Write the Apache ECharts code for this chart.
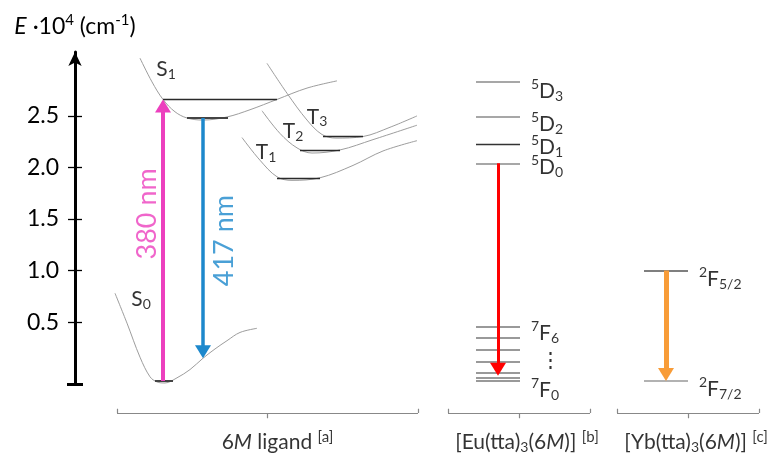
<!DOCTYPE html>
<html><head><meta charset="utf-8">
<script src="https://cdn.jsdelivr.net/npm/echarts@6/dist/echarts.min.js"></script>
<style>html,body{margin:0;padding:0;background:#fff}#c{width:772px;height:454px}</style>
</head><body><div id="c"></div>
<script>
// ---------- data (energies in 10^4 cm^-1, x = schematic configuration coordinate) ----------
const yTicks = [0.5, 1.0, 1.5, 2.0, 2.5];
const yMin = -0.1, yMax = 3.12;

const s0Curve = [[115,0.78],[127,0.49],[140,0.16],[150,-0.03],[157,-0.08],[165,-0.09],[177,-0.04],[190,0.04],[203,0.15],[215,0.24],[227,0.32],[240,0.40],[257,0.44]];
const s1Curve = [[140,3.06],[152,2.83],[163,2.66],[175,2.54],[187,2.48],[203,2.46],[227,2.49],[250,2.56],[277,2.66],[307,2.77],[337,2.84]];
const t1Curve = [[242,2.29],[260,2.07],[277,1.91],[292,1.875],[320,1.90],[353,2.02],[383,2.16],[417,2.26]];
const t2Curve = [[262,2.55],[280,2.33],[297,2.19],[312,2.14],[340,2.17],[373,2.27],[417,2.41]];
const t3Curve = [[267,3.01],[287,2.72],[307,2.46],[322,2.32],[336,2.285],[363,2.30],[390,2.39],[417,2.50]];

const ligandLevels = [
  {state:'S0',  from:155, to:173, E:-0.07},
  {state:'S1',  from:163, to:277, E:2.66},
  {state:'S1v', from:187, to:228, E:2.48},
  {state:'T1',  from:277, to:320, E:1.90},
  {state:'T2',  from:300, to:340, E:2.17},
  {state:'T3',  from:323, to:363, E:2.30}
];

const euNames = ['5D3','5D2','5D1','5D0','7F6','7F5','7F4','7F3','7F2','7F1','7F0'];
const euE     = [2.83, 2.49, 2.23, 2.04, 0.46, 0.35, 0.23, 0.12, 0.01, -0.04, -0.07];
const euSpan  = [476, 520];

const ybNames = ['2F5/2','2F7/2'];
const ybE     = [1.00, -0.07];
const ybSpan  = [644, 688];

const transitions = [
  {label:'380 nm', x:163, from:-0.07, to:2.66},
  {label:'417 nm', x:203, from:2.48,  to:0.15},
  {label:'',       x:498, from:2.04,  to:-0.02},
  {label:'',       x:666, from:1.00,  to:-0.07}
];

const stateLabels = [
  {text:'{m|S}{sub|1}', x:166, E:2.95},
  {text:'{m|S}{sub|0}', x:141, E:0.72},
  {text:'{m|T}{sub|1}', x:266, E:2.15},
  {text:'{m|T}{sub|2}', x:293, E:2.35},
  {text:'{m|T}{sub|3}', x:317, E:2.49}
];
const euLabels = [
  {text:'{sup|5}{m|D}{sub|3}', E:2.74},
  {text:'{sup|5}{m|D}{sub|2}', E:2.42},
  {text:'{sup|5}{m|D}{sub|1}', E:2.20},
  {text:'{sup|5}{m|D}{sub|0}', E:2.00},
  {text:'{sup|7}{m|F}{sub|6}', E:0.39},
  {text:'{m|⋮}',               E:0.13},
  {text:'{sup|7}{m|F}{sub|0}', E:-0.16}
];
const ybLabels = [
  {text:'{sup|2}{m|F}{sub|5/2}', E:0.92},
  {text:'{sup|2}{m|F}{sub|7/2}', E:-0.15}
];
const groups = [
  {text:'{n|6}{i|M}{n| ligand }{gsup|[a]}',                         from:117, to:418},
  {text:'{n|[Eu(tta)}{gsub|3}{n|(6}{i|M}{n|)] }{gsup|[b]}',          from:448, to:590},
  {text:'{n|[Yb(tta)}{gsub|3}{n|(6}{i|M}{n|)] }{gsup|[c]}',          from:617, to:759}
];

// ---------- styles / layout ----------
const FONT = 'Lato';
const TXT = '#000';
const GRID = {left:75, right:0, top:52, bottom:70};
const CHART_H = 454;
const arrowColors = ['#EC40BE', '#1D88CC', '#FF0000', '#F89C38'];
const arrowWidths = [4, 3.5, 3, 5];
const curveColor = '#9d9d9d';
const HEAD_BACK = 8; // px the line stops short of the arrow tip
const pxPerE = (CHART_H - GRID.top - GRID.bottom) / (yMax - yMin);
const headPath = 'path://M5,0L10,13L0,13ZM5,16';

const richLevel = {
  m:{fontSize:21, color:TXT, fontFamily:FONT},
  sup:{fontSize:14, color:TXT, fontFamily:FONT, padding:[0,0,13,0]},
  sub:{fontSize:14, color:TXT, fontFamily:FONT, padding:[11,0,0,0]}
};
const richState = {
  m:{fontSize:21, color:TXT, fontFamily:FONT},
  sub:{fontSize:14, color:TXT, fontFamily:FONT, padding:[10,0,0,0]}
};
const richGroup = {
  n:{fontSize:21, color:TXT, fontFamily:FONT, fontStyle:'normal'},
  i:{fontSize:21, color:TXT, fontFamily:FONT, fontStyle:'italic'},
  gsup:{fontSize:15, color:TXT, fontFamily:FONT, padding:[0,0,12,0]},
  gsub:{fontSize:14, color:TXT, fontFamily:FONT, padding:[10,0,0,0]}
};

const chart = echarts.init(document.getElementById('c'));

const curveSeries = [s0Curve, s1Curve, t1Curve, t2Curve, t3Curve].map(c => ({
  type:'line', xAxisIndex:0, yAxisIndex:0, data:c, smooth:0.35, symbol:'none', silent:true,
  lineStyle:{color:curveColor, width:1}, z:2, clip:false
}));

const ligandLevelSeries = {
  type:'lines', coordinateSystem:'cartesian2d', xAxisIndex:0, yAxisIndex:0, silent:true, z:3,
  lineStyle:{color:'#2a2a2a', width:1.3, opacity:1},
  data: ligandLevels.map(l => ({coords:[[l.from,l.E],[l.to,l.E]],
      lineStyle: (l.state==='S1v' || l.state==='S0') ? {color:'#444', width:2} : {}}))
};

const euLevelSeries = {
  type:'lines', coordinateSystem:'cartesian2d', xAxisIndex:0, yAxisIndex:0, silent:true, z:3,
  lineStyle:{color:'#8a8a8a', width:1.5, opacity:1},
  data: euE.map((E,i) => ({coords:[[euSpan[0],E],[euSpan[1],E]],
      lineStyle: euNames[i]==='5D1' ? {color:'#333', width:1.3} : (i>=9 ? {color:'#999', width:2.2} : (i>=4 ? {color:'#777', width:1.5} : {}))}))
};
const ybLevelSeries = {
  type:'lines', coordinateSystem:'cartesian2d', xAxisIndex:0, yAxisIndex:0, silent:true, z:3,
  lineStyle:{color:'#777', width:1.5, opacity:1},
  data: ybE.map((E,i) => ({coords:[[ybSpan[0],E],[ybSpan[1],E]], lineStyle: i===1 ? {color:'#999'} : {color:'#555'}}))
};

const arrowSeries = transitions.map((t,i) => {
  const dir = Math.sign(t.to - t.from);
  const lineEnd = t.to - dir * HEAD_BACK / pxPerE;
  return {
    type:'lines', coordinateSystem:'cartesian2d', xAxisIndex:0, yAxisIndex:0, silent:true, z:5,
    symbol:['none', headPath], symbolSize:[10,16],
    lineStyle:{color:arrowColors[i], width:arrowWidths[i], opacity:1},
    data:[{coords:[[t.x,t.from],[t.x,lineEnd]]}]
  };
});

const arrowLabelSeries = {
  type:'scatter', xAxisIndex:0, yAxisIndex:0, symbolSize:0, silent:true, z:6, clip:false,
  data: [
    {value:[transitions[0].x-16, 1.55], label:{show:true, formatter:transitions[0].label, rotate:90, color:arrowColors[0], fontSize:27, fontFamily:FONT}},
    {value:[transitions[1].x+21, 1.29], label:{show:true, formatter:transitions[1].label, rotate:90, color:arrowColors[1], fontSize:27, fontFamily:FONT}}
  ],
  label:{show:true, position:'inside'}
};

const stateLabelSeries = {
  type:'scatter', xAxisIndex:0, yAxisIndex:0, symbolSize:0, silent:true, z:6, clip:false,
  data: stateLabels.map(s => ({value:[s.x, s.E], label:{formatter:s.text}})),
  label:{show:true, position:'inside', rich:richState}
};
const euLabelSeries = {
  type:'scatter', xAxisIndex:0, yAxisIndex:0, symbolSize:0, silent:true, z:6, clip:false,
  data: euLabels.map(s => ({value:[531, s.E], label:{formatter:s.text, distance: s.text==='{m|⋮}' ? 9 : 0}})),
  label:{show:true, position:'right', rich:richLevel}
};
const ybLabelSeries = {
  type:'scatter', xAxisIndex:0, yAxisIndex:0, symbolSize:0, silent:true, z:6, clip:false,
  data: ybLabels.map(s => ({value:[699, s.E], label:{formatter:s.text}})),
  label:{show:true, position:'right', distance:0, rich:richLevel}
};

// brackets in the lower strip (y in 0..1 of that strip)
const bracketData = [];
groups.forEach(g => {
  const mid = (g.from + g.to) / 2;
  bracketData.push({coords:[[g.from,0.76],[g.to,0.76]]});
  bracketData.push({coords:[[g.from,0.76],[g.from,0.84]]});
  bracketData.push({coords:[[g.to,0.76],[g.to,0.84]]});
  bracketData.push({coords:[[mid,0.76],[mid,0.66]]});
});
const bracketSeries = {
  type:'lines', coordinateSystem:'cartesian2d', xAxisIndex:1, yAxisIndex:4, silent:true,
  lineStyle:{color:'#888', width:1.2, opacity:1}, data:bracketData
};
const groupLabelSeries = {
  type:'scatter', xAxisIndex:1, yAxisIndex:4, symbolSize:0, silent:true, clip:false,
  data: groups.map((g,i) => ({value:[(g.from+g.to)/2 + (i===0?10:8), 0.21], label:{formatter:g.text}})),
  label:{show:true, position:'inside', fontSize:21, color:TXT, fontFamily:FONT, rich:richGroup}
};

const tickAxis = (extra) => Object.assign({
  type:'value', gridIndex:0, min:yMin, max:yMax, position:'left',
  axisLine:{show:false}, axisLabel:{show:false}, splitLine:{show:false}
}, extra);

chart.setOption({
  animation:false,
  backgroundColor:'#fff',
  textStyle:{fontFamily:FONT},
  grid:[GRID, {left:75, right:0, top:400, bottom:0}],
  xAxis:[
    {type:'value', gridIndex:0, min:75, max:772, show:false},
    {type:'value', gridIndex:1, min:75, max:772, show:false}
  ],
  yAxis:[
    {type:'value', gridIndex:0, min:yMin, max:yMax, position:'left',
     axisLine:{show:true, lineStyle:{color:'#000', width:3}, symbol:['none','arrow'], symbolSize:[10,14]},
     axisTick:{show:true, customValues:yTicks, length:7, lineStyle:{color:'#000', width:1.3}},
     axisLabel:{show:true, customValues:yTicks, formatter:v => v.toFixed(1), fontSize:23, color:TXT, margin:16, fontFamily:FONT},
     splitLine:{show:false},
     name:'{i|E} ·10{sup|4} (cm{sup|-1})', nameLocation:'end', nameGap:11,
     nameTextStyle:{align:'center', verticalAlign:'bottom', fontSize:23, color:TXT, fontFamily:FONT,
       rich:{i:{fontSize:23, fontStyle:'italic', color:TXT, fontFamily:FONT},
             sup:{fontSize:15, color:TXT, fontFamily:FONT, padding:[0,0,13,0]}}}
    },
    tickAxis({axisTick:{show:true, inside:true, customValues:yTicks, length:7, lineStyle:{color:'#000', width:1.3}}}),
    tickAxis({axisTick:{show:true, customValues:[yMin], length:8, lineStyle:{color:'#000', width:3}}}),
    tickAxis({axisTick:{show:true, inside:true, customValues:[yMin], length:8, lineStyle:{color:'#000', width:3}}}),
    {type:'value', gridIndex:1, min:0, max:1, show:false}
  ],
  series:[].concat(curveSeries, [ligandLevelSeries, euLevelSeries, ybLevelSeries], arrowSeries,
    [arrowLabelSeries, stateLabelSeries, euLabelSeries, ybLabelSeries, bracketSeries, groupLabelSeries])
});
</script>
</body></html>
